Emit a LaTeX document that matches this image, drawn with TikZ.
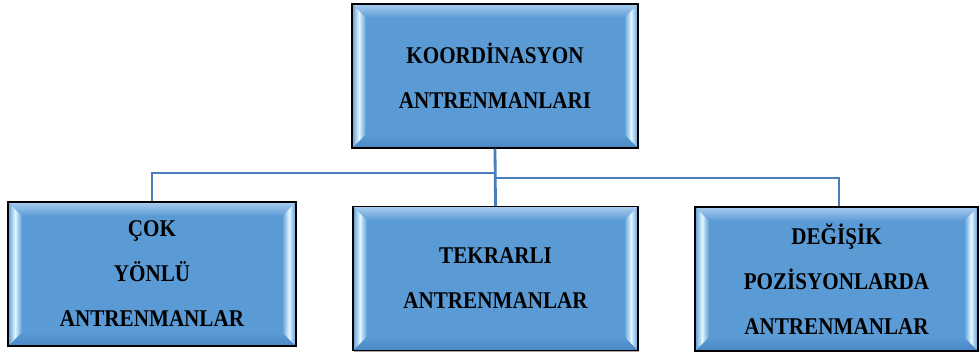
\documentclass[tikz,border=0pt]{standalone}
\usepackage{fontspec}
\setmainfont{Liberation Serif}[FakeStretch=0.88]
\usetikzlibrary{calc,shadows}
\definecolor{boxblue}{HTML}{5B9BD5}
\definecolor{boxtop}{HTML}{A9CDF0}
\definecolor{boxbot}{HTML}{4A86C5}
\definecolor{bevlight}{HTML}{E2F6FF}
\definecolor{linkblue}{HTML}{4A7EBB}
\tikzset{
  bevelbox/.style={draw=black, line width=1.3pt, fill=boxblue,
    minimum width=#1, minimum height=144pt, inner sep=0pt,
    align=center, font=\fontsize{24}{45}\selectfont\bfseries,
    drop shadow={shadow xshift=1.2pt, shadow yshift=-1.2pt, opacity=0.35, fill=black},
    path picture={
      \coordinate (NW) at (path picture bounding box.north west);
      \coordinate (NE) at (path picture bounding box.north east);
      \coordinate (SW) at (path picture bounding box.south west);
      \coordinate (SE) at (path picture bounding box.south east);
      \shade[top color=boxtop, bottom color=boxblue]
        (NW) -- (NE) -- ($(NE)+(-14pt,-14pt)$) -- ($(NW)+(14pt,-14pt)$) -- cycle;
      \shade[top color=boxblue, bottom color=boxbot]
        (SW) -- (SE) -- ($(SE)+(-14pt,14pt)$) -- ($(SW)+(14pt,14pt)$) -- cycle;
      \shade[left color=boxblue, right color=boxblue, middle color=bevlight]
        (NW) -- ($(NW)+(14pt,-14pt)$) -- ($(SW)+(14pt,14pt)$) -- (SW) -- cycle;
      \shade[left color=boxblue, right color=boxblue, middle color=bevlight]
        (NE) -- ($(NE)+(-14pt,-14pt)$) -- ($(SE)+(-14pt,14pt)$) -- (SE) -- cycle;
    }},
  bevelbox/.default=286pt,
  link/.style={draw=linkblue, line width=2pt},
  mainlink/.style={draw=linkblue, line width=2.8pt}
}
\begin{document}
\begin{tikzpicture}[x=1pt, y=-1pt]
\useasboundingbox (0,0) rectangle (980,354);
\node[bevelbox=286pt] (top) at (495,76) {KOORDİNASYON\\ANTRENMANLARI};
\node[bevelbox=288pt] (left) at (152,274) {ÇOK\\YÖNLÜ\\ANTRENMANLAR};
\node[bevelbox=285pt] (mid) at (495.5,278.5) {TEKRARLI\\ANTRENMANLAR};
\node[bevelbox=283pt] (right) at (836.5,279) {DEĞİŞİK\\POZİSYONLARDA\\ANTRENMANLAR};
\coordinate (jl) at (495,173);
\coordinate (jr) at (495,178);
\coordinate (rt) at (839,178);
\draw[link] (jl) -| (left.north);
\draw[link] (jr) -- (rt) -- (rt |- right.north);
\draw[mainlink] (top.south) -- (mid.north);
\end{tikzpicture}
\end{document}
